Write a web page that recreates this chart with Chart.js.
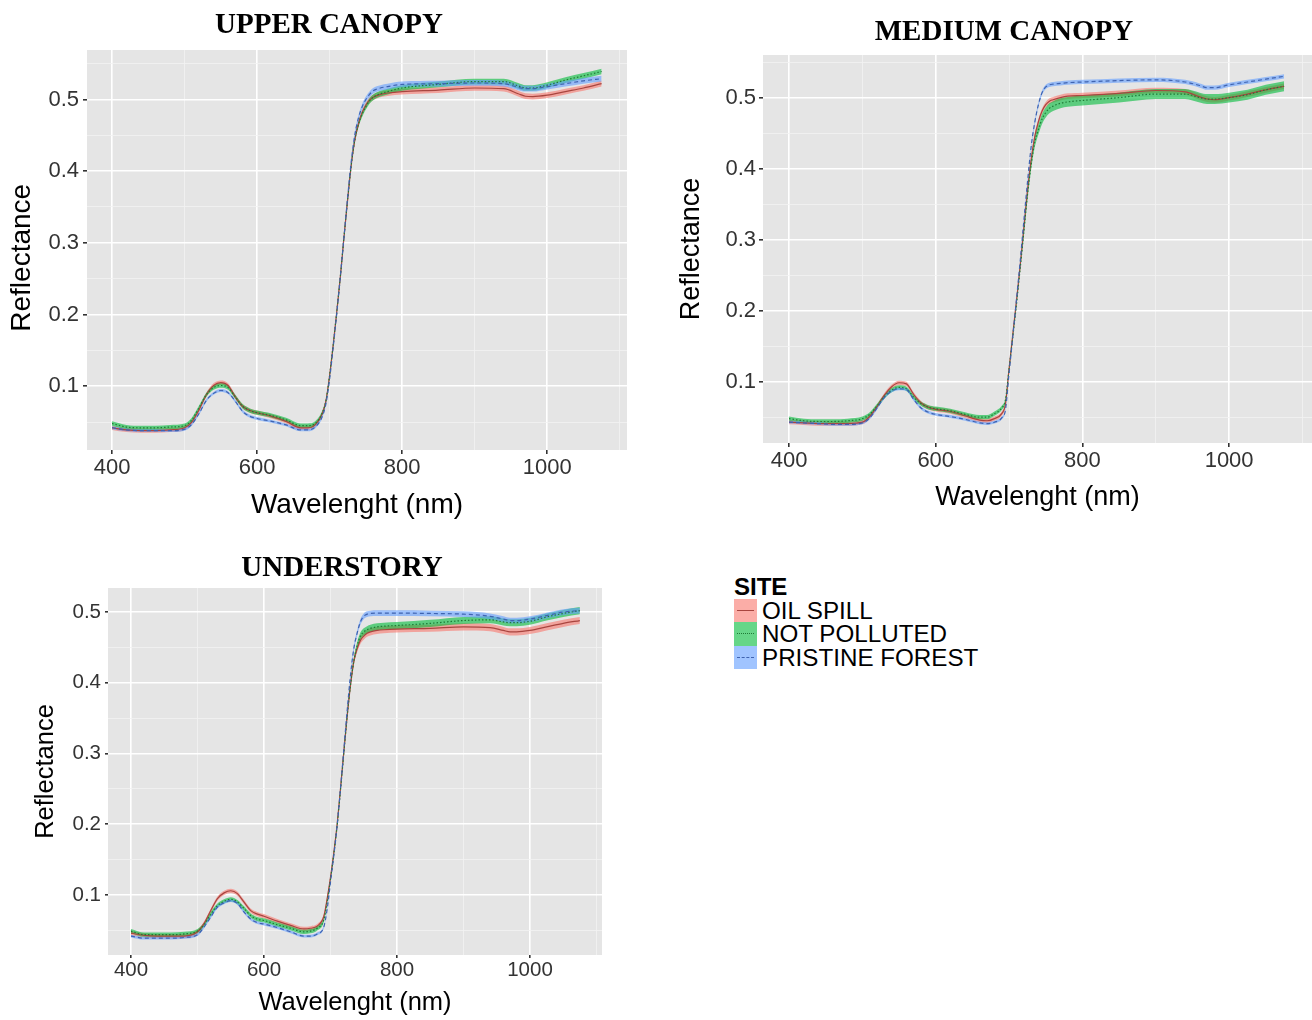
<!DOCTYPE html>
<html>
<head>
<meta charset="utf-8">
<title>Reflectance by canopy layer</title>
<script src="https://cdn.jsdelivr.net/npm/chart.js@4.4.0/dist/chart.umd.min.js"></script>
<style>
    body { margin: 0; background: #ffffff; }
    #page { position: relative; width: 1312px; height: 1020px; overflow: hidden; background: #ffffff; }
    .panel { position: absolute; }
    .judul {
        position: absolute; width: 400px; text-align: center;
        font-family: 'Liberation Serif', 'Times New Roman', serif;
        font-weight: bold; font-size: 29px; line-height: 29px; color: #000;
    }
    #legend { position: absolute; left: 734px; top: 575px; font-family: 'Liberation Sans', Arial, sans-serif; color: #000; }
    #legend .head { font-weight: bold; font-size: 24px; line-height: 24px; height: 24px; }
    #legend .row { display: flex; align-items: center; height: 23.33px; }
    #legend .key { width: 23px; height: 23.33px; display: flex; align-items: center; justify-content: center; }
    #legend .key span { width: 17px; height: 0; display: block; }
    #legend .label { font-size: 24.2px; line-height: 23.33px; margin-left: 5px; white-space: nowrap; }
</style>
</head>
<body>
<div id="page">
    <div class="panel" style="left:0px; top:0px;"><canvas id="chartUpper" width="640" height="525"></canvas></div>
    <div class="panel" style="left:670px; top:0px;"><canvas id="chartMedium" width="642" height="518"></canvas></div>
    <div class="panel" style="left:20px; top:540px;"><canvas id="chartUnderstory" width="582" height="480"></canvas></div>

    <div class="judul" style="left:129px; top:9px;">UPPER CANOPY</div>
    <div class="judul" style="left:804px; top:16px;">MEDIUM CANOPY</div>
    <div class="judul" style="left:142px; top:552px;">UNDERSTORY</div>

    <div id="legend"></div>
</div>

<script>
// wavelength (nm) of the read points
var wavelength = [400, 420, 440, 460, 480, 500, 510, 520, 530, 540, 550, 560, 570, 580, 590, 600, 620, 640, 660, 670,
    680, 690, 695, 700, 705, 710, 715, 720, 725, 730, 735, 740, 745, 750, 755, 760, 770, 780, 800, 850,
    900, 940, 960, 970, 980, 1000, 1025, 1050, 1075];

var sites = ['OIL SPILL', 'NOT POLLUTED', 'PRISTINE FOREST'];

// UPPER CANOPY mean reflectance
var upperOilSpill = [0.042, 0.039, 0.038, 0.038, 0.039, 0.042, 0.050, 0.067, 0.088, 0.101, 0.105, 0.101, 0.085, 0.072, 0.066, 0.063, 0.058, 0.051, 0.042, 0.042,
    0.046, 0.062, 0.080, 0.115, 0.158, 0.205, 0.255, 0.310, 0.362, 0.410, 0.445, 0.467, 0.482, 0.492, 0.499, 0.503, 0.507, 0.509, 0.511, 0.513,
    0.516, 0.515, 0.508, 0.5045, 0.504, 0.506, 0.511, 0.516, 0.522];
var upperNotPolluted = [0.048, 0.043, 0.042, 0.042, 0.043, 0.045, 0.053, 0.070, 0.088, 0.098, 0.101, 0.098, 0.085, 0.072, 0.066, 0.063, 0.059, 0.053, 0.045, 0.045,
    0.048, 0.063, 0.080, 0.115, 0.158, 0.205, 0.255, 0.310, 0.362, 0.410, 0.445, 0.466, 0.480, 0.490, 0.498, 0.503, 0.508, 0.511, 0.516, 0.521,
    0.525, 0.525, 0.519, 0.516, 0.516, 0.520, 0.527, 0.533, 0.539];
var upperPristine = [0.042, 0.039, 0.038, 0.038, 0.038, 0.040, 0.047, 0.062, 0.080, 0.090, 0.094, 0.091, 0.079, 0.065, 0.058, 0.055, 0.051, 0.046, 0.039, 0.039,
    0.043, 0.058, 0.076, 0.110, 0.155, 0.203, 0.255, 0.310, 0.365, 0.415, 0.452, 0.475, 0.490, 0.500, 0.507, 0.512, 0.516, 0.518, 0.521, 0.522,
    0.523, 0.522, 0.517, 0.515, 0.515, 0.518, 0.522, 0.526, 0.529];

// MEDIUM CANOPY mean reflectance
var mediumOilSpill = [0.043, 0.042, 0.041, 0.041, 0.041, 0.043, 0.051, 0.065, 0.081, 0.093, 0.0985, 0.097, 0.082, 0.070, 0.064, 0.061, 0.058, 0.052, 0.046, 0.045,
    0.048, 0.055, 0.068, 0.118, 0.166, 0.213, 0.262, 0.315, 0.368, 0.412, 0.445, 0.466, 0.481, 0.490, 0.495, 0.497, 0.500, 0.502, 0.503, 0.506,
    0.510, 0.508, 0.501, 0.498, 0.497, 0.500, 0.505, 0.511, 0.516];
var mediumNotPolluted = [0.048, 0.045, 0.044, 0.044, 0.045, 0.048, 0.054, 0.066, 0.079, 0.088, 0.092, 0.090, 0.078, 0.069, 0.064, 0.062, 0.059, 0.054, 0.050, 0.050,
    0.055, 0.063, 0.074, 0.118, 0.163, 0.208, 0.258, 0.310, 0.362, 0.405, 0.437, 0.455, 0.470, 0.479, 0.485, 0.488, 0.492, 0.494, 0.496, 0.500,
    0.505, 0.505, 0.500, 0.498, 0.498, 0.500, 0.504, 0.511, 0.516];
var mediumPristine = [0.043, 0.042, 0.041, 0.040, 0.040, 0.042, 0.049, 0.063, 0.078, 0.087, 0.090, 0.089, 0.075, 0.063, 0.057, 0.054, 0.051, 0.047, 0.042, 0.041,
    0.043, 0.049, 0.060, 0.112, 0.163, 0.215, 0.268, 0.325, 0.380, 0.430, 0.465, 0.490, 0.507, 0.515, 0.518, 0.519, 0.520, 0.521, 0.522, 0.524,
    0.525, 0.522, 0.517, 0.514, 0.514, 0.518, 0.522, 0.526, 0.530];

// UNDERSTORY mean reflectance
var understoryOilSpill = [0.046, 0.043, 0.042, 0.042, 0.042, 0.048, 0.060, 0.078, 0.095, 0.103, 0.106, 0.102, 0.090, 0.078, 0.073, 0.070, 0.063, 0.057, 0.052, 0.053,
    0.056, 0.070, 0.095, 0.125, 0.160, 0.200, 0.250, 0.302, 0.352, 0.396, 0.430, 0.448, 0.460, 0.466, 0.470, 0.472, 0.474, 0.475, 0.476, 0.477,
    0.479, 0.478, 0.474, 0.472, 0.472, 0.474, 0.479, 0.484, 0.488];
var understoryNotPolluted = [0.049, 0.044, 0.044, 0.044, 0.045, 0.049, 0.058, 0.073, 0.085, 0.091, 0.094, 0.090, 0.081, 0.071, 0.066, 0.064, 0.058, 0.053, 0.048, 0.049,
    0.053, 0.065, 0.090, 0.122, 0.158, 0.198, 0.248, 0.300, 0.352, 0.396, 0.430, 0.452, 0.466, 0.472, 0.475, 0.477, 0.479, 0.480, 0.481, 0.484,
    0.488, 0.489, 0.486, 0.485, 0.485, 0.487, 0.493, 0.498, 0.502];
var understoryPristine = [0.042, 0.039, 0.039, 0.039, 0.040, 0.044, 0.055, 0.069, 0.083, 0.089, 0.092, 0.088, 0.076, 0.066, 0.061, 0.059, 0.054, 0.048, 0.042, 0.042,
    0.045, 0.055, 0.080, 0.118, 0.156, 0.198, 0.250, 0.305, 0.360, 0.410, 0.448, 0.470, 0.486, 0.494, 0.497, 0.498, 0.4985, 0.4985, 0.4985, 0.498,
    0.497, 0.494, 0.490, 0.488, 0.488, 0.490, 0.495, 0.500, 0.502];

// half width of the confidence ribbon, [below 720 nm, from 720 nm], one pair per site
var upperBand = [[0.003, 0.004], [0.003, 0.004], [0.002, 0.004]];
var mediumBand = [[0.003, 0.004], [0.003, 0.007], [0.002, 0.003]];
var understoryBand = [[0.003, 0.005], [0.003, 0.005], [0.002, 0.004]];

// labelled ticks
var xTickLabels = [400, 600, 800, 1000];
var yTickLabels = [0.1, 0.2, 0.3, 0.4, 0.5];

var fillColors = ['rgba(248,118,109,0.6)', 'rgba(0,186,56,0.6)', 'rgba(97,156,255,0.6)'];
var lineColors = ['#a8453f', '#1f7a36', '#3f63b0'];
var lineDash = [[], [1.5, 2], [4, 3]];
var sansFont = "'Liberation Sans', Arial, sans-serif";

function isLabelX(v) {
    return xTickLabels.indexOf(Math.round(v)) >= 0 && Math.abs(v - Math.round(v)) < 1e-6;
}
function isLabelY(v) {
    for (var i = 0; i < yTickLabels.length; i++) {
        if (Math.abs(v - yTickLabels[i]) < 1e-6) return true;
    }
    return false;
}

// grey panel like ggplot
var greyPanel = {
    id: 'greyPanel',
    beforeDraw: function (chart) {
        var a = chart.chartArea;
        var ctx = chart.ctx;
        ctx.save();
        ctx.fillStyle = '#e5e5e5';
        ctx.fillRect(a.left, a.top, a.right - a.left, a.bottom - a.top);
        ctx.restore();
    }
};

function makeChart(canvasId, series, band, s) {
    var datasets = [];
    // ribbons first (drawn under the lines)
    for (var i = 0; i < series.length; i++) {
        var lo = [], hi = [];
        for (var k = 0; k < wavelength.length; k++) {
            var hw = wavelength[k] < 720 ? band[i][0] : band[i][1];
            lo.push({x: wavelength[k], y: series[i][k] - hw});
            hi.push({x: wavelength[k], y: series[i][k] + hw});
        }
        datasets.push({
            data: lo, borderColor: 'transparent', borderWidth: 0, pointRadius: 0,
            fill: false, order: 10 - i, cubicInterpolationMode: 'monotone'
        });
        datasets.push({
            data: hi, borderColor: 'transparent', borderWidth: 0, pointRadius: 0,
            backgroundColor: fillColors[i], fill: '-1', order: 10 - i, cubicInterpolationMode: 'monotone'
        });
    }
    for (var j = 0; j < series.length; j++) {
        var mid = [];
        for (var m = 0; m < wavelength.length; m++) {
            mid.push({x: wavelength[m], y: series[j][m]});
        }
        datasets.push({
            label: sites[j], data: mid, borderColor: lineColors[j], borderWidth: 1.2,
            borderDash: lineDash[j], pointRadius: 0, fill: false, order: 3 - j,
            cubicInterpolationMode: 'monotone'
        });
    }

    var gridColor = function (ctx, major) {
        if (!ctx.tick) return 'transparent';
        return major(ctx.tick.value) ? '#ffffff' : '#f2f2f2';
    };

    new Chart(document.getElementById(canvasId).getContext('2d'), {
        type: 'line',
        data: {datasets: datasets},
        options: {
            responsive: false,
            animation: false,
            devicePixelRatio: 1,
            layout: {padding: {top: s.padTop, right: s.padRight, left: 0, bottom: 0}},
            plugins: {legend: {display: false}, tooltip: {enabled: false}},
            scales: {
                x: {
                    type: 'linear', min: s.xMin, max: s.xMax,
                    border: {display: false},
                    grid: {
                        color: function (ctx) { return gridColor(ctx, isLabelX); },
                        lineWidth: function (ctx) { return ctx.tick && isLabelX(ctx.tick.value) ? 1.6 : 0.8; },
                        tickColor: function (ctx) { return ctx.tick && isLabelX(ctx.tick.value) ? '#333333' : 'transparent'; },
                        tickLength: s.tickLen
                    },
                    ticks: {
                        stepSize: 100, includeBounds: false, autoSkip: false, maxRotation: 0, maxTicksLimit: 100,
                        padding: s.xPad, color: '#333333', font: {family: sansFont, size: s.tickSize},
                        callback: function (v) { return isLabelX(v) ? String(Math.round(v)) : ''; }
                    },
                    title: {
                        display: true, text: 'Wavelenght (nm)', color: '#000000',
                        font: {family: sansFont, size: s.titleSize, lineHeight: 1},
                        padding: {top: 0, bottom: s.xTitlePad}
                    },
                    afterFit: function (scale) { scale.height = s.xHeight; }
                },
                y: {
                    type: 'linear', min: s.yMin, max: s.yMax,
                    border: {display: false},
                    grid: {
                        color: function (ctx) { return gridColor(ctx, isLabelY); },
                        lineWidth: function (ctx) { return ctx.tick && isLabelY(ctx.tick.value) ? 1.6 : 0.8; },
                        tickColor: function (ctx) { return ctx.tick && isLabelY(ctx.tick.value) ? '#333333' : 'transparent'; },
                        tickLength: s.tickLen
                    },
                    ticks: {
                        stepSize: 0.05, includeBounds: false, autoSkip: false, maxTicksLimit: 100,
                        padding: s.yPad, color: '#333333', font: {family: sansFont, size: s.tickSize},
                        callback: function (v) { return isLabelY(v) ? v.toFixed(1) : ''; }
                    },
                    title: {
                        display: true, text: s.yTitle, color: '#000000',
                        font: {family: sansFont, size: s.titleSize, lineHeight: 1},
                        padding: {top: s.yTitlePad, bottom: 0}
                    },
                    afterFit: function (scale) { scale.width = s.yWidth; }
                }
            }
        },
        plugins: [greyPanel]
    });
}

makeChart('chartUpper', [upperOilSpill, upperNotPolluted, upperPristine], upperBand, {
    padTop: 50, padRight: 13, yWidth: 87, xHeight: 75,
    xMin: 365.5, xMax: 1110, yMin: 0.011, yMax: 0.569,
    tickLen: 4, xPad: 1, yPad: 4, tickSize: 22, titleSize: 28, xTitlePad: 6, yTitlePad: 8,
    yTitle: 'Reflectance\u00a0\u00a0'
});

makeChart('chartMedium', [mediumOilSpill, mediumNotPolluted, mediumPristine], mediumBand, {
    padTop: 55, padRight: 0, yWidth: 93, xHeight: 75,
    xMin: 364.5, xMax: 1113, yMin: 0.0137, yMax: 0.560,
    tickLen: 4, xPad: 1, yPad: 3, tickSize: 22, titleSize: 27, xTitlePad: 6.5, yTitlePad: 8.5,
    yTitle: 'Reflectance'
});

makeChart('chartUnderstory', [understoryOilSpill, understoryNotPolluted, understoryPristine], understoryBand, {
    padTop: 48, padRight: 0, yWidth: 88, xHeight: 65,
    xMin: 365.4, xMax: 1108.3, yMin: 0.0152, yMax: 0.534,
    tickLen: 3, xPad: 0, yPad: 4, tickSize: 20.5, titleSize: 25.5, xTitlePad: 4, yTitlePad: 13,
    yTitle: 'Reflectance'
});

// legend
var legendBox = document.getElementById('legend');
var html = '<div class="head">SITE</div>';
var keyLine = ['1.5px solid ' + lineColors[0], '1.5px dotted ' + lineColors[1], '1.5px dashed ' + lineColors[2]];
for (var i = 0; i < sites.length; i++) {
    html += '<div class="row"><div class="key" style="background:' + fillColors[i] + '">' +
        '<span style="border-top:' + keyLine[i] + '"></span></div>' +
        '<div class="label">' + sites[i] + '</div></div>';
}
legendBox.innerHTML = html;
</script>
</body>
</html>
